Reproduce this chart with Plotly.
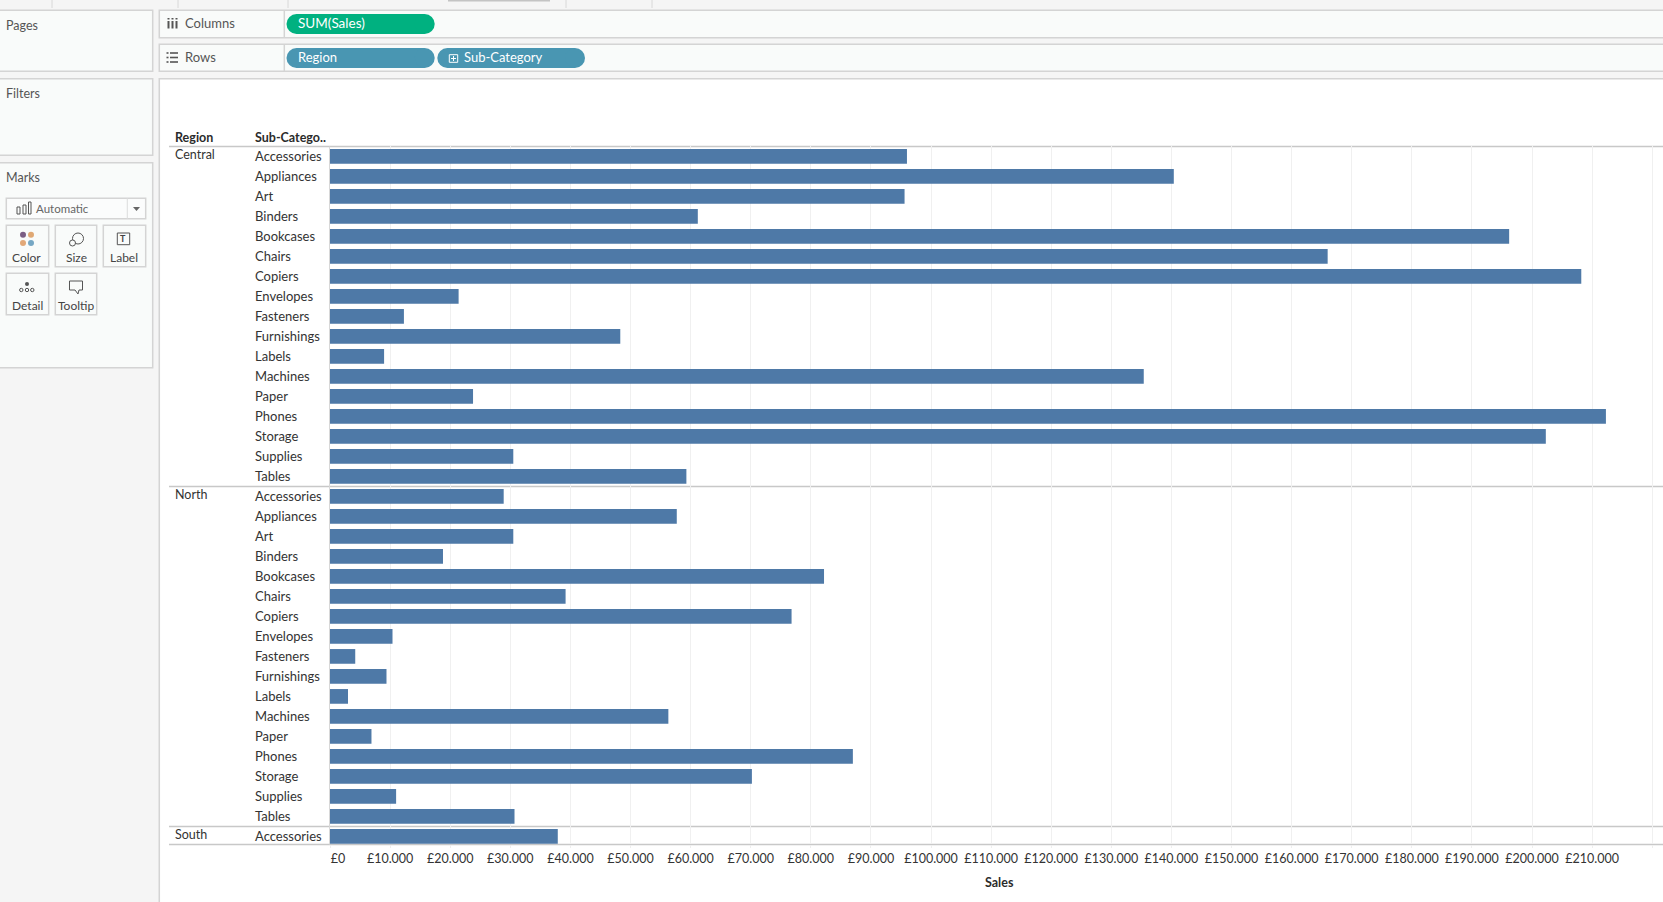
import plotly.graph_objects as go

W, H = 1663, 902

sub_categories = ["Accessories", "Appliances", "Art", "Binders", "Bookcases", "Chairs", "Copiers",
                  "Envelopes", "Fasteners", "Furnishings", "Labels", "Machines", "Paper", "Phones",
                  "Storage", "Supplies", "Tables"]
central_sales = [96000, 140400, 95600, 61200, 196200, 166000, 208200, 21400, 12300, 48300, 9000,
                 135400, 23800, 212300, 202300, 30500, 59300]
north_sales = [28900, 57700, 30500, 18800, 82200, 39200, 76800, 10400, 4200, 9400, 3000,
               56300, 6900, 87000, 70200, 11000, 30700]
south_sub_categories = ["Accessories"]
south_sales = [37900]
tick_values = list(range(0, 230000, 10000))
tick_labels = ["\u00a0\u00a0\u00a0\u00a0\u00a0£0"] + ["£%d.000" % (v // 1000) for v in tick_values[1:-1]] + [""]

FONT = "Lato"
DARK = "#333333"
GREY = "#555555"
BORDER = "#d4d4d4"
PANEL = "#f9fbfa"
BAR = "#4e79a7"
SEP = "#c8c8c8"

# pixel helpers for the surrounding workbook chrome
def X(p): return p / W
def Y(p): return 1 - p / H

shapes, annos = [], []

def rect(x0, y0, x1, y1, fill=None, line=None, w=1.5):
    shapes.append(dict(type="rect", xref="paper", yref="paper", x0=X(x0), y0=Y(y0), x1=X(x1), y1=Y(y1),
                       fillcolor=fill or "rgba(0,0,0,0)", line=dict(color=line or "rgba(0,0,0,0)", width=w if line else 0),
                       layer="below"))

def hline(x0, x1, y, color=SEP, w=1.5):
    shapes.append(dict(type="line", xref="paper", yref="paper", x0=X(x0), x1=X(x1), y0=Y(y), y1=Y(y),
                       line=dict(color=color, width=w), layer="below"))

def vline(x, y0, y1, color=BORDER, w=1.5):
    shapes.append(dict(type="line", xref="paper", yref="paper", x0=X(x), x1=X(x), y0=Y(y0), y1=Y(y1),
                       line=dict(color=color, width=w), layer="below"))

def circle(cx, cy, r, fill=None, line=None, w=1):
    shapes.append(dict(type="circle", xref="paper", yref="paper", x0=X(cx - r), x1=X(cx + r), y0=Y(cy - r), y1=Y(cy + r),
                       fillcolor=fill or "rgba(0,0,0,0)", line=dict(color=line or "rgba(0,0,0,0)", width=w if line else 0),
                       layer="below"))

def path(points, fill=None, line=None, w=1):
    d = "M " + " L ".join("%.5f,%.5f" % (X(a), Y(b)) for a, b in points) + " Z"
    shapes.append(dict(type="path", xref="paper", yref="paper", path=d, fillcolor=fill or "rgba(0,0,0,0)",
                       line=dict(color=line or "rgba(0,0,0,0)", width=w if line else 0), layer="below"))

def pill(x0, y0, x1, y1, fill):
    r = (y1 - y0) / 2
    rect(x0 + r, y0, x1 - r, y1, fill=fill)
    circle(x0 + r, y0 + r, r, fill=fill)
    circle(x1 - r, y0 + r, r, fill=fill)

def text(x, y, s, color=GREY, size=12.5, anchor="left", bold=False):
    annos.append(dict(xref="paper", yref="paper", x=X(x), y=Y(y), text="<b>%s</b>" % s if bold else s, showarrow=False,
                      xanchor=anchor, yanchor="middle", font=dict(family=FONT, size=size, color=color),
                      borderpad=0, borderwidth=0))

# top tab strip ticks
for tx in (52, 178, 288, 566, 652):
    vline(tx, 0, 8, "#d8d8d8", 1)
hline(448, 550, 0.5, "#c4c4c4", 2)

# left cards
rect(-3, 10.3, 152.7, 71.3, PANEL, BORDER)
rect(-3, 78.7, 152.7, 155.3, PANEL, BORDER)
rect(-3, 162.7, 152.7, 367.7, PANEL, BORDER)
text(6, 25.5, "Pages")
text(6, 93.5, "Filters")
text(6, 178, "Marks")

# shelves
rect(159.3, 10.3, W + 3, 37.7, PANEL, BORDER)
rect(159.3, 44.3, W + 3, 71.3, PANEL, BORDER)
vline(284.3, 10.3, 37.7)
vline(284.3, 44.3, 71.3)
text(185, 23.5, "Columns", size=13)
text(185, 57.5, "Rows", size=13)
for bx in (167.5, 171.5, 175.5):
    rect(bx, 21, bx + 2, 28.5, fill=GREY)
    rect(bx, 18, bx + 2, 19.5, fill=GREY)
for ly in (53, 57.5, 62):
    rect(166.5, ly - 0.8, 168.5, ly + 0.8, fill=GREY)
    rect(170, ly - 0.8, 178, ly + 0.8, fill=GREY)

pill(286.5, 14, 434.7, 34, "#00b180")
pill(286.5, 48, 434.7, 68, "#4996b2")
pill(437.3, 48, 585, 68, "#4996b2")
text(298, 23.5, "SUM(Sales)", "#ffffff", 13.5)
text(298, 57.5, "Region", "#ffffff", 13)
text(464, 57.5, "Sub-Category", "#ffffff", 13)
rect(449.3, 54.7, 457.7, 62.3, line="#ffffff", w=1)
hline(451, 456, 58.5, "#ffffff", 1)
vline(453.5, 56, 61, "#ffffff", 1)

# marks card
rect(6.3, 198.3, 145.7, 218.7, "#fbfcfc", BORDER)
vline(127.3, 198.3, 218.7, "#dddddd", 1)
text(36, 209, "Automatic", "#666666", 11.5)
path([(133, 207), (140, 207), (136.5, 211)], fill="#666666")
rect(17, 207, 20, 214, line="#555555", w=1)
rect(23, 205, 26, 214, line="#555555", w=1)
rect(28.5, 202, 31, 214, line="#555555", w=1)
for a, b, c, d in [(6.3, 225.3, 48.7, 266.7), (55.3, 225.3, 96.7, 266.7), (103.3, 225.3, 145.7, 266.7),
                   (6.3, 273.3, 48.7, 314.7), (55.3, 273.3, 96.7, 314.7)]:
    rect(a, b, c, d, PANEL, BORDER)
text(26.5, 257.5, "Color", "#444444", 12, "center")
text(76, 257.5, "Size", "#444444", 12, "center")
text(124, 257.5, "Label", "#444444", 12, "center")
text(27, 305.5, "Detail", "#444444", 12, "center")
text(76, 305.5, "Tooltip", "#444444", 12, "center")
circle(23, 234.7, 3, "#7b5e84")
circle(31, 234.7, 3, "#e0a873")
circle(23, 243, 3, "#e2a878")
circle(31, 243, 3, "#76a7c4")
circle(78, 238.5, 5.5, line="#555555")
circle(72.5, 243, 3, fill=PANEL, line="#555555")
rect(117.3, 233, 129.7, 244.7, line="#555555", w=1)
text(123.5, 239, "T", "#444444", 9, "center", True)
circle(27, 284, 2, "#555555")
for dx in (21.3, 27, 32.3):
    circle(dx, 290, 1.7, line="#555555")
path([(69.5, 281), (82.5, 281), (82.5, 290), (79, 290), (78, 294), (75, 290), (69.5, 290)], line="#555555")

# view
rect(159.3, 78.7, W + 3, H + 3, "#ffffff", BORDER)
hline(169, W, 146.4)
hline(169, W, 486.4)
hline(169, W, 826.4)
hline(169, W, 844.4)
vline(329.5, 146.4, 844.4, "#d8d8d8", 1)
text(175, 138, "Region", "#2b2b2b", 12.5, bold=True)
text(255, 138, "Sub-Catego..", "#2b2b2b", 12.5, bold=True)
text(999, 882, "Sales", "#2b2b2b", 12.5, "center", True)

region_labels = ["Central", "North", "South"]
region_values = [central_sales, north_sales, south_sales]
region_subs = [sub_categories, sub_categories, south_sub_categories]

rows, values, labels, start = [], [], [], 0
for region, vals, subs in zip(region_labels, region_values, region_subs):
    annos.append(dict(xref="paper", yref="y", x=X(173), y=start, yshift=1.5, text=region, showarrow=False, xanchor="left",
                      yanchor="middle", font=dict(family=FONT, size=12.5, color=DARK)))
    for s, v in zip(subs, vals):
        rows.append(start)
        values.append(v)
        labels.append(s)
        annos.append(dict(xref="paper", yref="y", x=X(253), y=start, text=s, showarrow=False, xanchor="left",
                          yanchor="middle", font=dict(family=FONT, size=13, color=DARK)))
        start += 1

fig = go.Figure(go.Bar(x=values, y=rows, orientation="h", marker=dict(color=BAR, line=dict(width=0)), width=0.735,
                       customdata=labels, hovertemplate="%{customdata}: %{x}<extra></extra>"))

PX_PER_10K = 60.1
fig.update_layout(
    template="none",
    width=W, height=H, autosize=False, margin=dict(l=0, r=0, t=0, b=0, pad=0),
    paper_bgcolor="#f5f5f5", plot_bgcolor="rgba(0,0,0,0)", showlegend=False,
    font=dict(family=FONT, size=12.5, color=DARK),
    shapes=shapes, annotations=annos,
    xaxis=dict(domain=[330 / W, 1], range=[0, (W - 330) / PX_PER_10K * 10000], tickmode="array", automargin=False,
               tickvals=tick_values, ticktext=tick_labels, showgrid=True, gridcolor="#f0f0f0", gridwidth=1,
               zeroline=False, ticks="outside", ticklen=3, tickcolor="#eeeeee", tickfont=dict(family=FONT, size=12.5, color=DARK),
               showline=False),
    yaxis=dict(domain=[1 - 844.4 / H, 1 - 146.4 / H], range=[34.4, -0.5], showticklabels=False, showgrid=False,
               zeroline=False, ticks="", automargin=False),
)
fig.write_html("out.html", config=dict(displayModeBar=False),
               post_script="document.body.style.margin='0';document.body.style.overflow='hidden';")
